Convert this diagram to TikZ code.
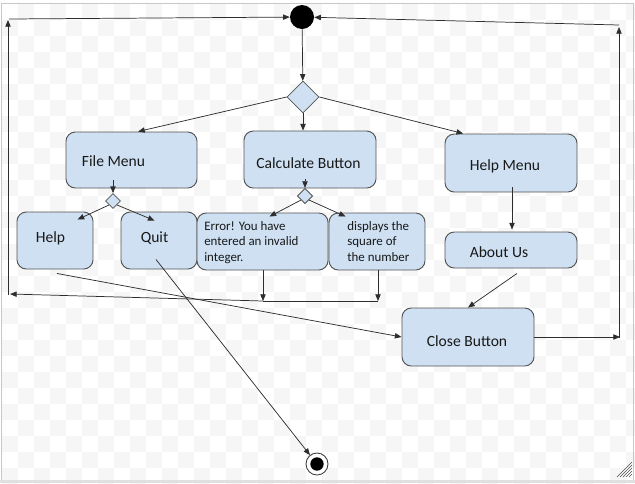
\documentclass[tikz,border=0pt]{standalone}
\usepackage{fontspec}
\setmainfont{Carlito}
\usetikzlibrary{shapes.geometric,arrows.meta,calc}
\definecolor{boxfill}{RGB}{206,224,242}
\definecolor{boxline}{RGB}{85,85,85}
\definecolor{lineclr}{RGB}{45,45,45}
\definecolor{chk}{RGB}{246,246,246}
\definecolor{frameclr}{RGB}{200,200,200}
\begin{document}
\begin{tikzpicture}[x=0.75pt,y=-0.75pt,
  actbox/.style={draw=boxline,fill=boxfill,rounded corners=7pt,line width=0.7pt,inner sep=0pt},
  lbl/.style={font=\fontsize{11.7}{14}\selectfont,inner sep=0pt,text=black!90},
  smalllbl/.style={font=\fontsize{9.7}{11.6}\selectfont,inner sep=0pt,align=left,anchor=north west,text=black!90},
  decis/.style={diamond,draw=boxline,fill=boxfill,line width=0.6pt,inner sep=0pt,aspect=1},
  arr/.style={draw=lineclr,line width=0.55pt,-{Triangle[length=5pt,width=4pt]}},
  plain/.style={draw=lineclr,line width=0.55pt}]
\useasboundingbox (0,0) rectangle (635,483);
% background checkerboard
\foreach \i in {0,...,39}{\foreach \j in {0,...,29}{
  \pgfmathtruncatemacro{\odd}{mod(\i+\j,2)}
  \ifnum\odd=1
    \fill[chk] ({2+16*\i},{4+16*\j}) rectangle ++(16,16);
  \fi}}
% frame
\fill[white] (0,480) rectangle (635,483);
\fill[black!12] (0,480) rectangle (635,483);
\draw[frameclr,line width=0.6pt] (1,3) -- (633,3) -- (633,480);
\draw[frameclr,line width=0.6pt] (1,3) -- (1,480);
\foreach \k in {0,3,6,9,12}{\draw[black!70,line width=0.5pt] ({617+\k},477) -- (632,{462+\k});}

% start / end
\node[circle,fill=black,minimum size=18pt,inner sep=0pt] (start) at (302,17) {};
\node[circle,draw=black!80,fill=white,line width=0.6pt,minimum size=16.5pt,inner sep=0pt] (endo) at (317,464) {};
\node[circle,fill=black,minimum size=10pt,inner sep=0pt] (endi) at (317,464) {};

% decisions
\node[decis,minimum size=24pt] (d1) at (303,97) {};
\node[decis,minimum size=11.25pt] (d2) at (113,201) {};
\node[decis,minimum size=11.5pt] (d3) at (305,196) {};

% boxes
\node[actbox,minimum width=98.25pt,minimum height=42pt] (fm) at (131.5,160) {};
\node[lbl] (fmt) at (113.5,161) {File Menu};
\node[actbox,minimum width=99pt,minimum height=42.75pt] (calc) at (310,159.5) {};
\node[lbl] (calct) at (308.5,163) {Calculate Button};
\node[actbox,minimum width=99pt,minimum height=43.5pt] (hm) at (511,163) {};
\node[lbl] (hmt) at (505,166) {Help Menu};
\node[actbox,minimum width=57pt,minimum height=42.75pt] (help) at (55,240.5) {};
\node[lbl] (helpt) at (50.5,238) {Help};
\node[actbox,minimum width=57pt,minimum height=42.75pt] (quit) at (159,240.5) {};
\node[lbl] (quitt) at (154.5,238) {Quit};
\node[actbox,minimum width=98.25pt,minimum height=42.75pt] (err) at (262.5,241.5) {};
\node[smalllbl] (errt) at (204,221) {Error! You have\\entered an invalid\\integer.};
\node[actbox,minimum width=72pt,minimum height=42.75pt] (disp) at (377,241.5) {};
\node[smalllbl] (dispt) at (347,221) {displays the\\square of\\the number};
\node[actbox,minimum width=99pt,minimum height=27pt] (about) at (511,250) {};
\node[lbl] (aboutt) at (499,252) {About Us};
\node[actbox,minimum width=99pt,minimum height=43.5pt] (close) at (468,337) {};
\node[lbl] (closet) at (467,341) {Close Button};

% helper coordinates
\coordinate (j1) at (263,301);
\coordinate (j2) at (378,301);
\coordinate (l1) at (10,294);
\coordinate (l0) at (8,295);
\coordinate (l2) at (8,20);
\coordinate (l3) at (9,19);
\coordinate (r1) at (620,337);
\coordinate (r0) at (619,338);
\coordinate (r2) at (619,27);
\coordinate (r3) at (619,25);

% connectors
\draw[arr] (start) -- (d1);
\draw[arr] (d1.west) -- ($(fm.north west)!0.55!(fm.north east)$);
\draw[arr] (d1.south) -- (d1.south |- calc.north);
\draw[arr] (d1.east) -- ($(hm.north west)!0.14!(hm.north east)$);
\draw[arr] ($(d2.north |- fm.south)+(0,-8)$) -- (d2.north);
\draw[arr] (d2.south west) -- ($(help.north west)+(61,8)$);
\draw[arr] (d2.south east) -- ($(quit.north west)+(34,9)$);
\draw[arr] ($(d3.north |- calc.south)+(0,-9)$) -- (d3.north);
\draw[arr] (d3.south west) -- ($(err.north west)+(73,4)$);
\draw[arr] (d3.south east) -- ($(disp.north west)+(17,4)$);
\draw[arr] ($(hm.south)+(1,-5)$) -- ($(about.north)+(1,-2)$);
\draw[arr] ($(about.south)+(6,5)$) -- (close.north);
\draw[arr] ($(help.south)+(2,4)$) -- (close.west);
\draw[arr] ($(quit.south)+(-3,-10)$) -- (endo);
\draw[arr] (err.south -| j1) -- (j1);
\draw[arr] (disp.south -| j2) -- (j2);
\draw[plain] (j2) -- (j1);
\draw[arr] (j1) -- (l1);
\draw[arr] (l0) -- (l2);
\draw[arr] (l3) -- (start);
\draw[arr] (close.east) -- (r1);
\draw[arr] (r0) -- (r2);
\draw[arr] (r3) -- (start);
\end{tikzpicture}
\end{document}
